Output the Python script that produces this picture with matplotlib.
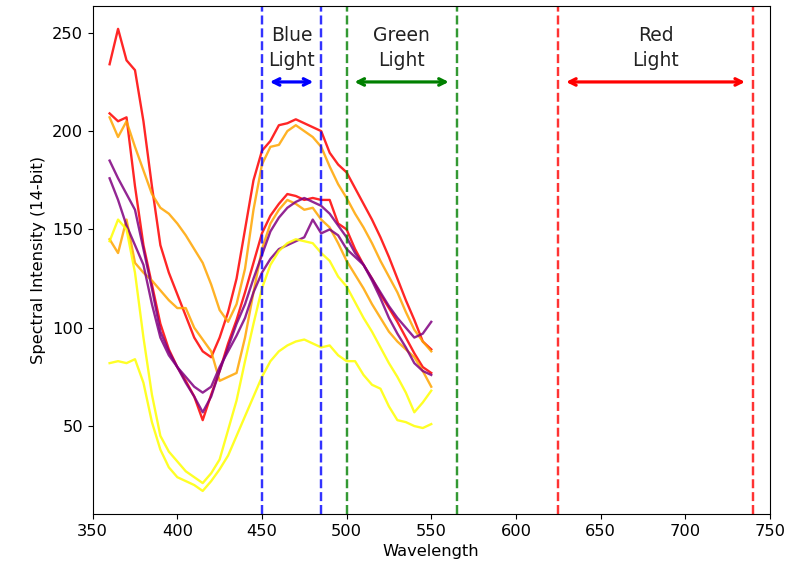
import numpy as np
import matplotlib
matplotlib.use('Agg')
import matplotlib.pyplot as plt

# wavelength grid (nm)
wavelength = np.arange(360, 551, 5)

# spectra
red_a = [234, 252, 236, 231, 205, 172, 142, 128, 117, 106, 95, 88, 85, 95, 108, 125, 150, 175, 190, 195,
         203, 204, 206, 204, 202, 200, 189, 183, 179, 171, 163, 155, 146, 136, 125, 114, 104, 93, 89]
red_b = [209, 205, 207, 172, 142, 122, 102, 89, 80, 73, 65, 53, 66, 78, 92, 104, 118, 133, 148, 157,
         163, 168, 167, 165, 166, 165, 165, 153, 150, 140, 132, 125, 117, 110, 103, 95, 87, 80, 77]
orange_a = [207, 197, 205, 192, 180, 168, 161, 158, 153, 147, 140, 133, 122, 109, 103, 112, 130, 160, 183, 192,
            193, 200, 203, 200, 197, 192, 182, 173, 166, 158, 151, 143, 134, 126, 118, 108, 99, 93, 88]
orange_b = [145, 138, 155, 133, 128, 124, 119, 114, 110, 110, 100, 94, 88, 73, 75, 77, 95, 118, 140, 153,
            160, 165, 163, 160, 161, 155, 151, 143, 134, 127, 120, 112, 105, 98, 93, 89, 85, 78, 70]
purple_a = [185, 176, 168, 160, 140, 120, 98, 88, 80, 72, 65, 57, 65, 78, 90, 102, 112, 125, 137, 149,
            156, 161, 164, 166, 164, 162, 158, 152, 146, 138, 132, 125, 118, 111, 105, 100, 95, 97, 103]
purple_b = [176, 165, 152, 142, 132, 112, 95, 86, 80, 75, 70, 67, 70, 80, 88, 96, 105, 118, 128, 135,
            140, 142, 144, 146, 155, 148, 150, 147, 140, 136, 132, 124, 115, 105, 97, 90, 82, 78, 76]
yellow_a = [144, 155, 150, 128, 95, 66, 45, 37, 32, 27, 24, 21, 26, 33, 48, 63, 83, 102, 120, 132,
            139, 143, 145, 144, 143, 138, 134, 126, 121, 113, 105, 98, 90, 82, 75, 67, 57, 62, 68]
yellow_b = [82, 83, 82, 84, 72, 52, 38, 29, 24, 22, 20, 17, 22, 28, 35, 45, 55, 65, 75, 83,
            88, 91, 93, 94, 92, 90, 91, 86, 83, 83, 76, 71, 69, 60, 53, 52, 50, 49, 51]

spectra = [red_a, red_b, orange_a, orange_b, purple_a, purple_b, yellow_a, yellow_b]
line_colors = ['red', 'red', 'orange', 'orange', 'purple', 'purple', 'yellow', 'yellow']

# light bands: (name, start, end, colour)
bands = [('Blue', 450, 485, 'blue'), ('Green', 500, 565, 'green'), ('Red', 625, 740, 'red')]

plt.rcParams['font.size'] = 11.7

fig, ax = plt.subplots(figsize=(7.92, 5.75), dpi=100)
fig.subplots_adjust(left=0.117, right=0.972, top=0.99, bottom=0.106)

for spec, c in zip(spectra, line_colors):
    ax.plot(wavelength, spec, color=c, lw=1.7, alpha=0.85)

for name, lo, hi, c in bands:
    ax.axvline(lo, color=c, ls='--', lw=1.75, alpha=0.8)
    ax.axvline(hi, color=c, ls='--', lw=1.75, alpha=0.8)
    ax.annotate('', xy=(lo + 3, 225), xytext=(hi - 3, 225),
                arrowprops=dict(arrowstyle='<->', color=c, lw=2.3))
    ax.text((lo + hi) / 2, 242.5, name + '\nLight', ha='center', va='center',
            fontsize=13.5, linespacing=1.4, color='#222222')

ax.set_xlim(350, 750)
ax.set_xticks(np.arange(350, 751, 50))
ax.set_xlabel('Wavelength')
ax.set_ylabel('Spectral Intensity (14-bit)')

fig.savefig('out.png', dpi=100)
